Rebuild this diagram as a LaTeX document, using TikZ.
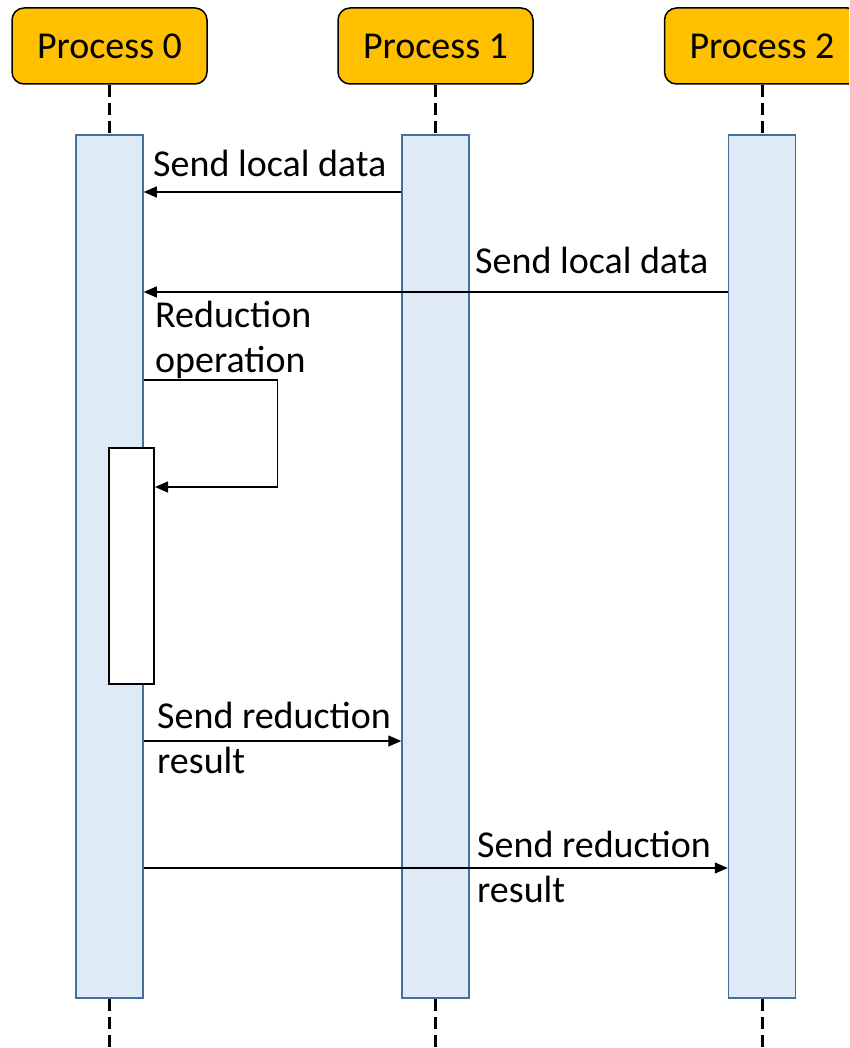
\documentclass[tikz,border=0pt]{standalone}
\usepackage{fontspec}
\setmainfont{Carlito}
\usetikzlibrary{arrows.meta,calc,positioning}
\definecolor{procgold}{HTML}{FFC000}
\definecolor{barblue}{HTML}{DEEBF7}
\definecolor{baredge}{HTML}{41719C}

\begin{document}
\begin{tikzpicture}[x=1pt,y=-1pt,
  font=\fontsize{38}{45}\selectfont,
  procbox/.style={draw=black,line width=1.5pt,fill=procgold,rounded corners=12pt,
    minimum width=195pt,minimum height=76pt,inner sep=0pt},
  actbar/.style={draw=baredge,line width=1.5pt,fill=barblue,
    minimum width=67pt,minimum height=863pt,inner sep=0pt},
  lifeline/.style={line width=3pt,dash pattern=on 12pt off 6pt},
  msg/.style={line width=1.2pt,-{Triangle[length=13pt,width=11pt]}},
  lbl/.style={inner sep=0pt,align=left,anchor=base west}]
  \useasboundingbox (0,0) rectangle (849,1048);
  \clip (0,0) rectangle (849,1048);

  % Process headers
  \node[procbox] (p0) at (109.5,46) {Process 0};
  \node[procbox] (p1) at (435.5,46) {Process 1};
  \node[procbox] (p2) at (762,46) {Process 2};

  % Activation bars
  \node[actbar] (bar0) at (109.5,566.5) {};
  \node[actbar] (bar1) at (435.5,566.5) {};
  \node[actbar] (bar2) at (762,566.5) {};

  % Lifelines above and below the bars
  \coordinate (bottom) at (0,1048);
  \foreach \i in {0,1,2} {
    \draw[lifeline] (p\i.south) -- (bar\i.north);
    \draw[lifeline] (bar\i.south) -- (bar\i.south |- bottom);
  }

  % Message rows
  \coordinate (r1) at (0,192);
  \coordinate (r2) at (0,292);
  \coordinate (r3) at (0,380);
  \coordinate (r3b) at (0,487);
  \coordinate (r4) at (0,741);
  \coordinate (r5) at (0,868);

  % Gather: local data into process 0
  \draw[msg] (bar1.west |- r1) -- (bar0.east |- r1);
  \node[lbl] (send1) at (153,177) {Send local data};
  \draw[msg] (bar2.west |- r2) -- (bar0.east |- r2);
  \node[lbl] (send2) at (475,273) {Send local data};

  % Local reduction on process 0 (base is on the last line)
  \node[draw=black,line width=2pt,fill=white,minimum width=45pt,
    minimum height=236pt,inner sep=0pt] (reduce) at (131.5,566) {};
  \draw[msg] (bar0.east |- r3) -- ++(134,0) |- (reduce.east |- r3b);
  \node[lbl] (redop) at (155,372) {Reduction\\operation};

  % Scatter the result back
  \draw[msg] (bar0.east |- r4) -- (bar1.west |- r4);
  \node[lbl] (res1) at (157,773) {Send reduction\\result};
  \draw[msg] (bar0.east |- r5) -- (bar2.west |- r5);
  \node[lbl] (res2) at (477,902) {Send reduction\\result};
\end{tikzpicture}
\end{document}
